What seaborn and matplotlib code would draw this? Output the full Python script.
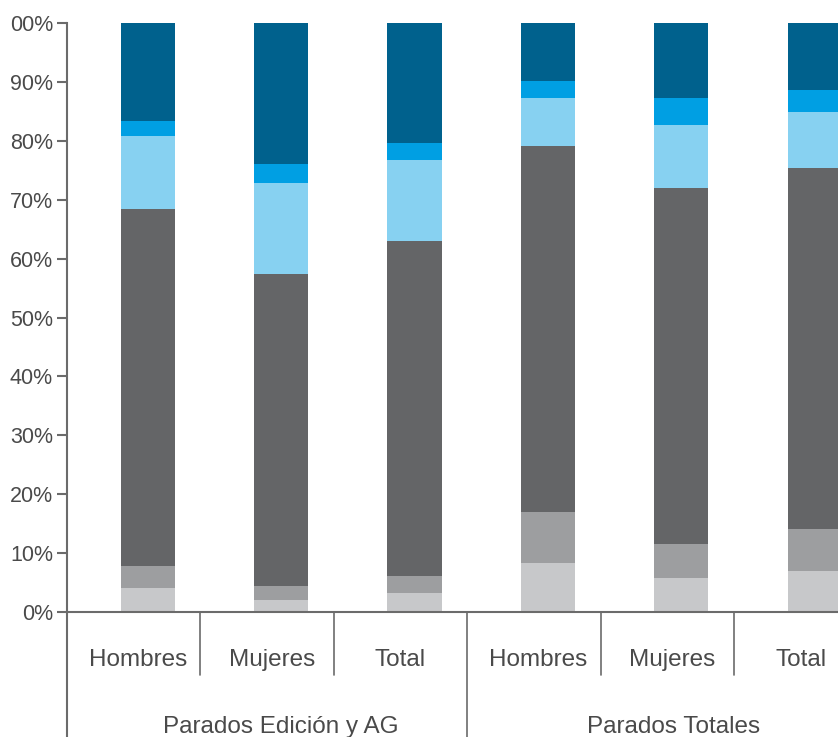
import matplotlib
matplotlib.use("Agg")
import matplotlib.pyplot as plt
import numpy as np
import pandas as pd
import seaborn as sns

# ---- data ----
categories = ["Hombres", "Mujeres", "Total", "Hombres", "Mujeres", "Total"]
groups = ["Parados Edición y AG", "Parados Totales"]
seg1 = [4.1, 2.0, 3.2, 8.3, 5.8, 7.0]
seg2 = [3.7, 2.4, 2.9, 8.7, 5.7, 7.1]
seg3 = [60.6, 53.0, 56.9, 62.1, 60.5, 61.3]
seg4 = [12.4, 15.4, 13.7, 8.2, 10.7, 9.5]
seg5 = [2.6, 3.3, 2.9, 2.9, 4.6, 3.7]
seg6 = [16.6, 23.9, 20.4, 9.8, 12.7, 11.4]
yticks = [0, 10, 20, 30, 40, 50, 60, 70, 80, 90, 100]
ytick_labels = ["0%", "10%", "20%", "30%", "40%", "50%", "60%", "70%", "80%", "90%", "00%"]

colors = ["#c7c8ca", "#9d9ea0", "#646567", "#87d1f1", "#009fe3", "#00618d"]
segments = [seg1, seg2, seg3, seg4, seg5, seg6]

sns.set_style("white")
plt.rcParams['font.family'] = ['Liberation Sans', 'DejaVu Sans']
text_color = "#4a4a4a"
line_color = "#6b6b6b"

fig = plt.figure(figsize=(8.38, 7.37), dpi=100)
W, H = 838, 737
ax = fig.add_axes([67 / W, (H - 612) / H, (W - 67) / W, (612 - 23) / H])

pos = np.arange(len(categories)) + 0.605
cum = np.cumsum(np.array(segments), axis=0)
df = pd.DataFrame({"pos": pos})
# draw cumulative layers from top to bottom
for i in range(len(segments) - 1, -1, -1):
    df["val"] = cum[i]
    sns.barplot(data=df, x="pos", y="val", native_scale=True, width=0.405,
                color=colors[i], saturation=1, ax=ax, linewidth=0, zorder=2)

ax.set_xlim(0, (W - 67) / 133.4)
ax.set_ylim(0, 100)
ax.set_xlabel("")
ax.set_ylabel("")
ax.set_xticks([])
ax.set_yticks(yticks)
ax.set_yticklabels(ytick_labels, fontsize=15.5, color=text_color)
ax.tick_params(axis="y", direction="out", length=7, width=1.5, color=line_color, pad=3, left=True)
for s in ["top", "right"]:
    ax.spines[s].set_visible(False)
for s in ["left", "bottom"]:
    ax.spines[s].set_color(line_color)
    ax.spines[s].set_linewidth(1.5)

px = 100 / 589.0
# left axis extension
ax.plot([0, 0], [0, -(H - 612) * px - 2], color=line_color, lw=1.5, clip_on=False, zorder=3)
# separators
for xs in [1, 2, 4, 5]:
    ax.plot([xs, xs], [0, -(675 - 612) * px], color=line_color, lw=1.2, clip_on=False)
ax.plot([3, 3], [0, -(H - 612) * px - 2], color=line_color, lw=1.2, clip_on=False)

for i, c in enumerate(categories):
    off = 0.5 if c == "Total" else 0.535
    ax.text(i + off, -(666 - 612) * px, c, ha="center", va="baseline",
            fontsize=17.5, color=text_color, clip_on=False)
ax.text(1.6, -(733 - 612) * px, groups[0], ha="center", va="baseline",
        fontsize=17.5, color=text_color, clip_on=False)
ax.text(4.55, -(733 - 612) * px, groups[1], ha="center", va="baseline",
        fontsize=17.5, color=text_color, clip_on=False)

fig.savefig("out.png", dpi=100)
